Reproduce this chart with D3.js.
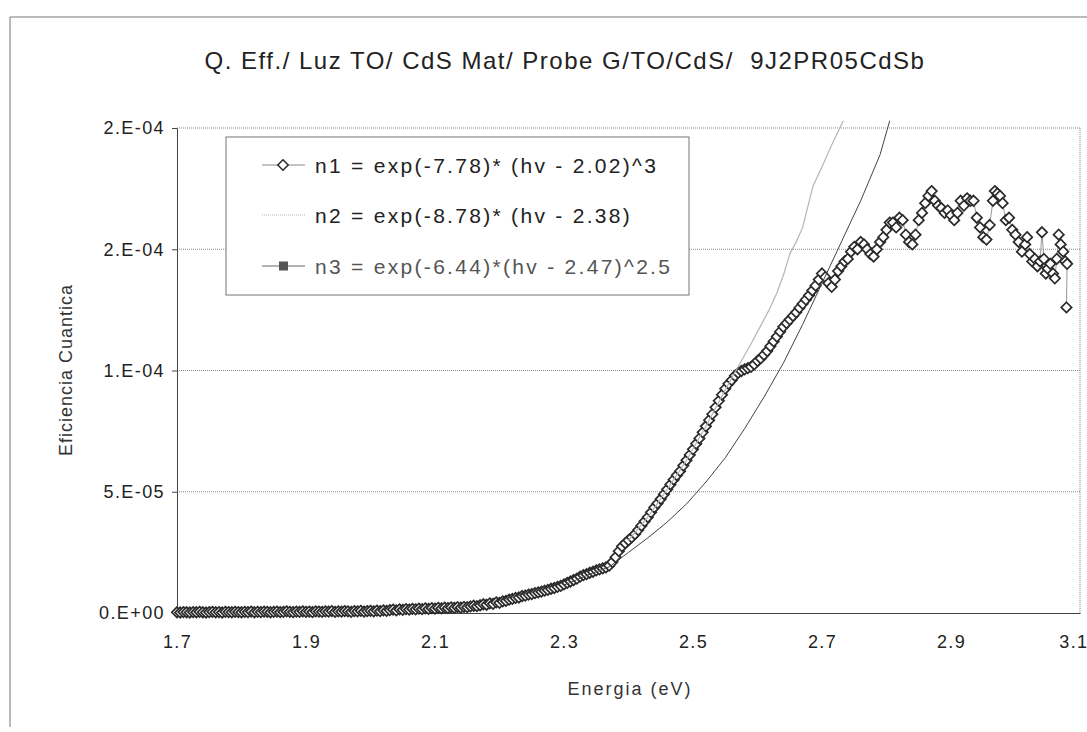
<!DOCTYPE html>
<html>
<head>
<meta charset="utf-8">
<script src="https://cdn.jsdelivr.net/npm/d3@7/dist/d3.min.js"></script>
<style>
  html, body { margin: 0; padding: 0; background: #fff; }
  svg { display: block; font-family: "Liberation Sans", Arial, sans-serif; }
  .t { white-space: pre; }
</style>
</head>
<body>
<svg id="chart" width="1087" height="732"></svg>
<script>
// values in units of 1e-5 (Eficiencia Cuantica)
const UNIT = 1e-5;

const xTicks = [1.7, 1.9, 2.1, 2.3, 2.5, 2.7, 2.9, 3.1];
const xTickLabels = ["1.7", "1.9", "2.1", "2.3", "2.5", "2.7", "2.9", "3.1"];
const yTicks = [0, 5e-5, 1e-4, 1.5e-4, 2e-4];
const yTickLabels = ["0.E+00", "5.E-05", "1.E-04", "2.E-04", "2.E-04"];

const legendLabels = [
  "n1 = exp(-7.78)* (hv - 2.02)^3",
  "n2 = exp(-8.78)* (hv - 2.38)",
  "n3 = exp(-6.44)*(hv - 2.47)^2.5"
];

// measured points [energy eV, efficiency x1e-5]
const n1Points = [
  [1.700,0.03],[1.705,0.02],[1.710,0.04],[1.715,0.03],[1.720,0.02],[1.725,0.04],[1.730,0.03],[1.735,0.05],
  [1.740,0.03],[1.745,0.02],[1.750,0.04],[1.755,0.05],[1.760,0.03],[1.765,0.04],[1.770,0.02],[1.775,0.05],
  [1.780,0.04],[1.785,0.03],[1.790,0.05],[1.795,0.04],[1.800,0.03],[1.805,0.05],[1.810,0.04],[1.815,0.06],
  [1.820,0.03],[1.825,0.05],[1.830,0.04],[1.835,0.06],[1.840,0.05],[1.845,0.03],[1.850,0.05],[1.855,0.06],
  [1.860,0.04],[1.865,0.05],[1.870,0.07],[1.875,0.05],[1.880,0.04],[1.885,0.06],[1.890,0.05],[1.895,0.07],
  [1.900,0.05],[1.905,0.06],[1.910,0.04],[1.915,0.07],[1.920,0.06],[1.925,0.05],[1.930,0.07],[1.935,0.06],
  [1.940,0.08],[1.945,0.05],[1.950,0.07],[1.955,0.06],[1.960,0.08],[1.965,0.07],[1.970,0.05],[1.975,0.08],
  [1.980,0.07],[1.985,0.09],[1.990,0.06],[1.995,0.08],[2.000,0.09],[2.005,0.07],[2.010,0.10],[2.015,0.08],
  [2.020,0.11],[2.025,0.09],[2.030,0.12],[2.035,0.14],[2.040,0.11],[2.045,0.15],[2.050,0.13],[2.055,0.16],
  [2.060,0.14],[2.065,0.17],[2.070,0.15],[2.075,0.18],[2.080,0.16],[2.085,0.19],[2.090,0.17],[2.095,0.20],
  [2.100,0.18],[2.105,0.21],[2.110,0.19],[2.115,0.22],[2.120,0.20],[2.125,0.23],[2.130,0.21],[2.135,0.24],
  [2.140,0.22],[2.145,0.25],[2.150,0.24],[2.155,0.27],[2.160,0.30],[2.165,0.28],
  [2.170,0.32],[2.175,0.36],[2.180,0.34],[2.185,0.40],[2.190,0.38],[2.195,0.44],[2.200,0.42],[2.205,0.48],
  [2.210,0.50],[2.215,0.55],[2.220,0.58],[2.225,0.62],[2.230,0.64],[2.235,0.70],[2.240,0.72],[2.245,0.76],
  [2.250,0.78],[2.255,0.82],[2.260,0.85],[2.265,0.88],[2.270,0.92],[2.275,0.95],[2.280,1.00],[2.285,1.03],
  [2.290,1.08],[2.295,1.12],[2.300,1.18],[2.305,1.24],[2.310,1.30],[2.315,1.36],[2.320,1.42],[2.325,1.50],
  [2.330,1.56],[2.335,1.60],[2.340,1.66],[2.345,1.70],[2.350,1.76],[2.355,1.80],[2.360,1.84],[2.365,1.88],
  [2.370,1.95],[2.375,2.10],[2.380,2.30],[2.385,2.55],[2.390,2.75],[2.395,2.88],[2.400,3.00],[2.405,3.12],
  [2.410,3.25],[2.415,3.42],[2.420,3.60],[2.425,3.78],[2.430,3.95],[2.435,4.15],[2.440,4.35],[2.445,4.52],
  [2.450,4.70],[2.455,4.90],[2.460,5.10],[2.465,5.30],[2.470,5.50],[2.475,5.68],[2.480,5.85],[2.485,6.08],
  [2.490,6.30],[2.495,6.52],[2.500,6.75],[2.505,6.98],[2.510,7.20],[2.515,7.45],[2.520,7.70],[2.525,7.95],
  [2.530,8.20],[2.535,8.48],[2.540,8.75],[2.545,9.00],[2.550,9.25],[2.555,9.45],[2.560,9.60],[2.565,9.78],
  [2.570,9.90],[2.575,9.98],[2.580,10.05],[2.585,10.10],[2.590,10.15],[2.595,10.25],[2.600,10.40],[2.605,10.50],
  [2.610,10.65],[2.615,10.80],[2.620,11.00],[2.625,11.20],[2.630,11.40],[2.635,11.60],[2.640,11.80],[2.645,11.95],
  [2.650,12.10],[2.655,12.25],[2.660,12.40],[2.665,12.58],[2.670,12.75],[2.675,12.92],[2.680,13.10],[2.685,13.30],
  [2.690,13.50],[2.695,13.75],[2.700,14.00],[2.705,13.85],[2.710,13.60],[2.715,13.45],[2.720,13.75],[2.725,14.10],
  [2.730,14.3],[2.735,14.5],[2.740,14.6],[2.745,14.9],[2.750,15.1],[2.755,15.0],[2.760,15.3],[2.765,15.2],
  [2.770,15.0],[2.775,14.8],[2.780,14.7],[2.785,15.0],[2.790,15.3],[2.795,15.5],[2.800,15.8],[2.805,16.1],
  [2.810,16.1],[2.815,15.9],[2.820,16.3],[2.825,16.2],[2.830,15.6],[2.835,15.3],[2.840,15.2],[2.845,15.6],
  [2.850,16.2],[2.855,16.5],[2.860,16.9],[2.865,17.2],[2.870,17.4],[2.875,17.0],[2.880,16.8],[2.885,16.7],
  [2.890,16.5],[2.895,16.6],[2.900,16.4],[2.905,16.2],[2.910,16.5],[2.915,17.0],[2.920,16.8],[2.925,17.1],
  [2.930,17.0],[2.935,17.0],[2.940,16.3],[2.945,15.9],[2.950,15.5],[2.955,15.4],[2.960,16.0],[2.965,17.0],
  [2.968,17.4],[2.972,17.3],[2.976,17.2],[2.980,16.9],[2.985,16.2],[2.990,16.3],[2.995,15.8],[3.000,15.6],
  [3.005,15.3],[3.010,14.9],[3.015,15.2],[3.018,15.5],[3.022,14.8],[3.026,14.5],[3.030,14.6],[3.034,14.3],
  [3.038,14.5],[3.041,15.7],[3.044,14.6],[3.047,14.0],[3.050,14.2],[3.054,14.4],[3.058,14.0],[3.061,13.8],
  [3.064,14.6],[3.067,15.6],[3.070,15.2],[3.074,14.9],[3.077,14.5],[3.080,14.4],[3.079,12.6]
];

// fit n2 (light grey)
const n2Points = [
  [2.400,3.00],[2.430,3.95],[2.460,5.10],[2.490,6.30],[2.520,7.70],[2.550,9.20],[2.573,10.3],
  [2.590,11.1],[2.604,11.8],[2.618,12.5],[2.630,13.2],[2.641,14.0],[2.650,14.8],[2.660,15.3],
  [2.670,15.9],[2.686,17.6],[2.700,18.4],[2.715,19.3],[2.733,20.3]
];

// fit n3 (dark)
const n3Points = [
  [2.300,1.15],[2.340,1.60],[2.370,1.90],[2.400,2.50],[2.430,3.10],[2.460,3.75],[2.490,4.50],
  [2.520,5.40],[2.550,6.40],[2.580,7.60],[2.610,8.90],[2.640,10.3],[2.670,11.9],[2.700,13.6],
  [2.730,15.3],[2.760,17.0],[2.790,18.9],[2.805,20.3]
];

const svg = d3.select("#chart");

const plot = { left: 177, right: 1080, top: 128, bottom: 613 };
const x = d3.scaleLinear().domain([1.7, 3.1]).range([plot.left, plot.right]);
const y = d3.scaleLinear().domain([0, 2e-4]).range([plot.bottom, plot.top]);

// outer frame (scanned page border)
svg.append("path")
  .attr("d", "M10,727 V17 H1087")
  .attr("fill", "none")
  .attr("stroke", "#777")
  .attr("stroke-width", 1);

// title
svg.append("text")
  .attr("class", "t")
  .attr("x", 565).attr("y", 69)
  .attr("text-anchor", "middle")
  .attr("font-size", 24)
  .attr("letter-spacing", 1.5)
  .attr("fill", "#222")
  .text("Q. Eff./ Luz TO/ CdS Mat/ Probe G/TO/CdS/  9J2PR05CdSb");

// grid
svg.append("g")
  .selectAll("line")
  .data(yTicks.slice(1))
  .join("line")
  .attr("x1", plot.left).attr("x2", plot.right)
  .attr("y1", d => y(d)).attr("y2", d => y(d))
  .attr("stroke", "#888")
  .attr("stroke-width", 1)
  .attr("stroke-dasharray", "1,1");

svg.append("line")
  .attr("x1", plot.right).attr("x2", plot.right)
  .attr("y1", plot.top).attr("y2", plot.bottom)
  .attr("stroke", "#888")
  .attr("stroke-dasharray", "1,1");

// axes
const yAxis = svg.append("g")
  .attr("transform", `translate(${plot.left},0)`)
  .call(d3.axisLeft(y).tickValues(yTicks).tickSize(5).tickPadding(7)
    .tickFormat((d, i) => yTickLabels[i]));
yAxis.select(".domain").attr("stroke", "#444");
yAxis.selectAll(".tick line").attr("stroke", "#444");
yAxis.selectAll("text")
  .attr("font-family", "Liberation Sans, Arial, sans-serif")
  .attr("font-size", 18).attr("letter-spacing", 1.4).attr("fill", "#222");

const xAxis = svg.append("g")
  .attr("transform", `translate(0,${plot.bottom})`)
  .call(d3.axisBottom(x).tickValues(xTicks).tickSize(0).tickPadding(22)
    .tickFormat((d, i) => xTickLabels[i]));
xAxis.select(".domain").attr("stroke", "#444");
xAxis.selectAll("text")
  .attr("font-family", "Liberation Sans, Arial, sans-serif")
  .attr("font-size", 18).attr("letter-spacing", 1.4).attr("fill", "#222");
// last label sits against the page edge
xAxis.selectAll("text").filter((d, i) => i === xTicks.length - 1)
  .attr("text-anchor", "end").attr("dx", 8);

// axis titles
svg.append("text")
  .attr("transform", "translate(72,370) rotate(-90)")
  .attr("text-anchor", "middle")
  .attr("font-size", 18).attr("letter-spacing", 1)
  .attr("fill", "#333")
  .text("Eficiencia Cuantica");

svg.append("text")
  .attr("x", 630).attr("y", 695)
  .attr("text-anchor", "middle")
  .attr("font-size", 18).attr("letter-spacing", 2)
  .attr("fill", "#333")
  .text("Energia (eV)");

// series
const line = d3.line()
  .x(d => x(d[0]))
  .y(d => y(d[1] * UNIT));

svg.append("path")
  .datum(n1Points)
  .attr("d", line)
  .attr("fill", "none")
  .attr("stroke", "#999")
  .attr("stroke-width", 1);

const diamond = r => `M0,${-r} L${r},0 L0,${r} L${-r},0 Z`;

svg.append("g")
  .selectAll("path")
  .data(n1Points)
  .join("path")
  .attr("transform", d => `translate(${x(d[0])},${y(d[1] * UNIT)})`)
  .attr("d", diamond(5.2))
  .attr("fill", "#fff")
  .attr("stroke", "#2a2a2a")
  .attr("stroke-width", 1.7);

svg.append("path")
  .datum(n2Points)
  .attr("d", line)
  .attr("fill", "none")
  .attr("stroke", "#b5b5b5")
  .attr("stroke-width", 1.2);

svg.append("path")
  .datum(n3Points)
  .attr("d", line)
  .attr("fill", "none")
  .attr("stroke", "#444")
  .attr("stroke-width", 1);

// legend
const legend = svg.append("g");
legend.append("rect")
  .attr("x", 226).attr("y", 137)
  .attr("width", 463).attr("height", 158)
  .attr("fill", "#fff")
  .attr("stroke", "#777")
  .attr("stroke-width", 1);

const legendY = [165, 215, 266];
const legendStyles = [
  { stroke: "#888", dash: null, marker: "diamond", text: "#222" },
  { stroke: "#b5b5b5", dash: "1,1", marker: null, text: "#222" },
  { stroke: "#666", dash: null, marker: "square", text: "#555" }
];

legendLabels.forEach((label, i) => {
  const st = legendStyles[i];
  const gy = legendY[i];
  legend.append("line")
    .attr("x1", 262).attr("x2", 305)
    .attr("y1", gy).attr("y2", gy)
    .attr("stroke", st.stroke)
    .attr("stroke-width", 1)
    .attr("stroke-dasharray", st.dash);
  if (st.marker === "diamond") {
    legend.append("path")
      .attr("transform", `translate(283,${gy})`)
      .attr("d", diamond(5.2))
      .attr("fill", "#fff").attr("stroke", "#2a2a2a").attr("stroke-width", 1.5);
  } else if (st.marker === "square") {
    legend.append("rect")
      .attr("x", 279).attr("y", gy - 4.5)
      .attr("width", 9).attr("height", 9)
      .attr("fill", "#555");
  }
  legend.append("text")
    .attr("class", "t")
    .attr("x", 315).attr("y", gy + 7.5)
    .attr("font-size", 21).attr("letter-spacing", 2.3)
    .attr("fill", st.text)
    .text(label);
});
</script>
</body>
</html>
